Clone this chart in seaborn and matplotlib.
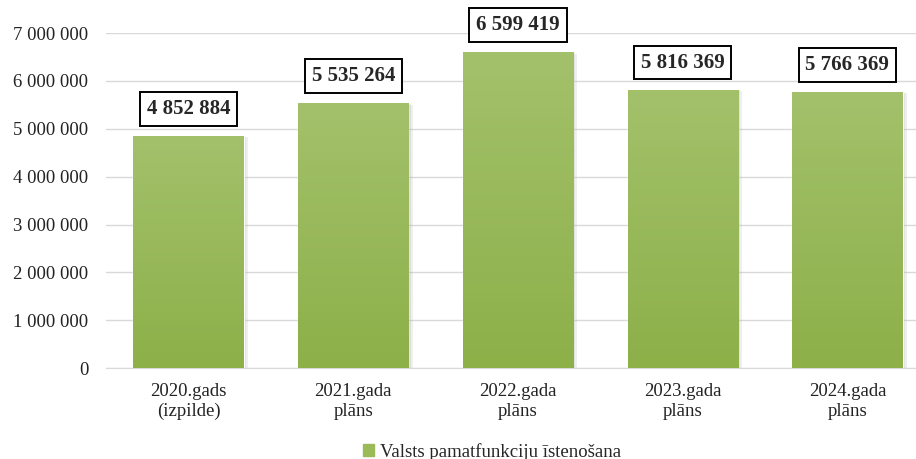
import numpy as np
import pandas as pd
import seaborn as sns
import matplotlib.pyplot as plt
import matplotlib.patheffects as pe
from matplotlib.colors import LinearSegmentedColormap
from matplotlib.patches import Patch
from matplotlib.ticker import FuncFormatter

categories = ["2020.gads\n(izpilde)", "2021.gada\nplāns", "2022.gada\nplāns",
              "2023.gada\nplāns", "2024.gada\nplāns"]
values = [4852884, 5535264, 6599419, 5816369, 5766369]
series_name = "Valsts pamatfunkciju īstenošana"

sns.set_style('white')
plt.rcParams['font.family'] = ['Liberation Serif', 'DejaVu Serif']

df = pd.DataFrame({'kategorija': categories, 'summa': values})
bar_color = '#9bbb59'
grad = LinearSegmentedColormap.from_list('g', ['#8db049', '#a3c16b'])

fig = plt.figure(figsize=(9.16, 4.59), dpi=100)
ax = fig.add_axes([0.116, 0.198, 0.899, 0.73])

sns.barplot(data=df, x='kategorija', y='summa', color=bar_color,
            width=0.67, saturation=1, ax=ax, zorder=3)

# soft shadow + vertical gradient on each bar
for p in ax.patches:
    p.set_path_effects([pe.SimplePatchShadow(offset=(3, -1), shadow_rgbFace='#999999', alpha=0.15),
                        pe.SimplePatchShadow(offset=(1.5, -0.5), shadow_rgbFace='#999999', alpha=0.2),
                        pe.Normal()])
    x0, y0 = p.get_x(), p.get_y()
    w, h = p.get_width(), p.get_height()
    img = ax.imshow(np.linspace(0, 1, 100).reshape(-1, 1), cmap=grad, aspect='auto',
                    extent=(x0, x0 + w, y0, y0 + h), origin='lower', zorder=3.5)
    img.set_clip_path(p)

ax.set_ylim(0, 7000000)
ax.set_yticks(np.arange(0, 7000001, 1000000))
ax.yaxis.set_major_formatter(FuncFormatter(lambda v, p: f"{int(v):,}".replace(',', ' ')))
ax.grid(axis='y', color='#d9d9d9', linewidth=1, zorder=0)
ax.set_xlim(-0.5, 4.5)
for s in ['top', 'right', 'left']:
    ax.spines[s].set_visible(False)
ax.spines['bottom'].set_color('#d9d9d9')
ax.tick_params(axis='both', length=0, labelsize=13.5, colors='#222222')
ax.tick_params(axis='x', pad=11)
ax.tick_params(axis='y', pad=13)
ax.set_xlabel('')
ax.set_ylabel('')

for i, v in enumerate(values):
    ax.annotate(f"{v:,}".replace(',', ' '), xy=(i, v), xytext=(0, 19.5),
                textcoords='offset points', ha='center', va='center',
                fontsize=15, fontweight='bold', annotation_clip=False, zorder=5,
                bbox=dict(boxstyle='square,pad=0.33', fc='white', ec='black', lw=1.4))

fig.legend(handles=[Patch(color=bar_color, label=series_name)],
           loc='center', bbox_to_anchor=(0.537, 0.016), frameon=False,
           fontsize=13.5, handlelength=0.6, handleheight=0.6, handletextpad=0.3)

fig.savefig('out.png', dpi=100)
